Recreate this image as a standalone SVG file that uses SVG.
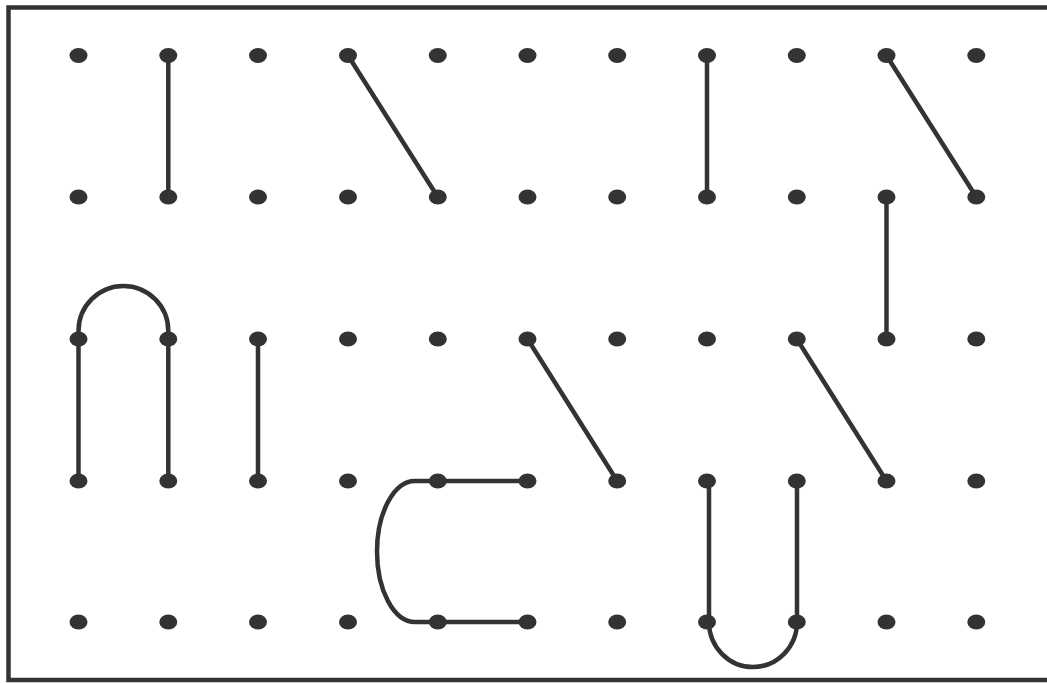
<svg xmlns="http://www.w3.org/2000/svg" width="1047" height="683" viewBox="0 0 1047 683">
<style>
.d{fill:#333}
.c{fill:none;stroke:#333;stroke-width:4.5}
</style>
<defs><ellipse id="dot" cx="0" cy="0" rx="9" ry="7.5"/></defs>
<rect x="0" y="0" width="1047" height="683" fill="#fff"/>
<rect x="8.5" y="7.5" width="1060" height="672.5" fill="none" stroke="#333" stroke-width="4.5"/>
<g id="connectors" class="c">
<path d="M168.3,55.5 V197"/>
<path d="M348,55.5 L437.8,197"/>
<path d="M707,55.5 V197"/>
<path d="M886.5,55.5 L976.3,197"/>
<path d="M886.5,197 V339"/>
<path d="M78.5,481 V331 A44.9,45 0 0 1 168.3,331 V481"/>
<path d="M258,339 V481"/>
<path d="M527.5,339 L617.2,481"/>
<path d="M796.8,339 L886.5,481"/>
<path d="M527.5,481 H415 A38,70.5 0 0 0 415,622 H527.5"/>
<path d="M709,481 V622 A44,45 0 0 0 797,622 V481"/>
</g>
<g id="nodes" class="d">
<g id="r0"><use href="#dot" x="78.5" y="55.5"/><use href="#dot" x="168.3" y="55.5"/><use href="#dot" x="258" y="55.5"/><use href="#dot" x="348" y="55.5"/><use href="#dot" x="437.8" y="55.5"/><use href="#dot" x="527.5" y="55.5"/><use href="#dot" x="617.2" y="55.5"/><use href="#dot" x="707" y="55.5"/><use href="#dot" x="796.8" y="55.5"/><use href="#dot" x="886.5" y="55.5"/><use href="#dot" x="976.3" y="55.5"/></g>
<g id="r1"><use href="#dot" x="78.5" y="197"/><use href="#dot" x="168.3" y="197"/><use href="#dot" x="258" y="197"/><use href="#dot" x="348" y="197"/><use href="#dot" x="437.8" y="197"/><use href="#dot" x="527.5" y="197"/><use href="#dot" x="617.2" y="197"/><use href="#dot" x="707" y="197"/><use href="#dot" x="796.8" y="197"/><use href="#dot" x="886.5" y="197"/><use href="#dot" x="976.3" y="197"/></g>
<g id="r2"><use href="#dot" x="78.5" y="339"/><use href="#dot" x="168.3" y="339"/><use href="#dot" x="258" y="339"/><use href="#dot" x="348" y="339"/><use href="#dot" x="437.8" y="339"/><use href="#dot" x="527.5" y="339"/><use href="#dot" x="617.2" y="339"/><use href="#dot" x="707" y="339"/><use href="#dot" x="796.8" y="339"/><use href="#dot" x="886.5" y="339"/><use href="#dot" x="976.3" y="339"/></g>
<g id="r3"><use href="#dot" x="78.5" y="481"/><use href="#dot" x="168.3" y="481"/><use href="#dot" x="258" y="481"/><use href="#dot" x="348" y="481"/><use href="#dot" x="437.8" y="481"/><use href="#dot" x="527.5" y="481"/><use href="#dot" x="617.2" y="481"/><use href="#dot" x="707" y="481"/><use href="#dot" x="796.8" y="481"/><use href="#dot" x="886.5" y="481"/><use href="#dot" x="976.3" y="481"/></g>
<g id="r4"><use href="#dot" x="78.5" y="622"/><use href="#dot" x="168.3" y="622"/><use href="#dot" x="258" y="622"/><use href="#dot" x="348" y="622"/><use href="#dot" x="437.8" y="622"/><use href="#dot" x="527.5" y="622"/><use href="#dot" x="617.2" y="622"/><use href="#dot" x="707" y="622"/><use href="#dot" x="796.8" y="622"/><use href="#dot" x="886.5" y="622"/><use href="#dot" x="976.3" y="622"/></g>
</g>
</svg>
